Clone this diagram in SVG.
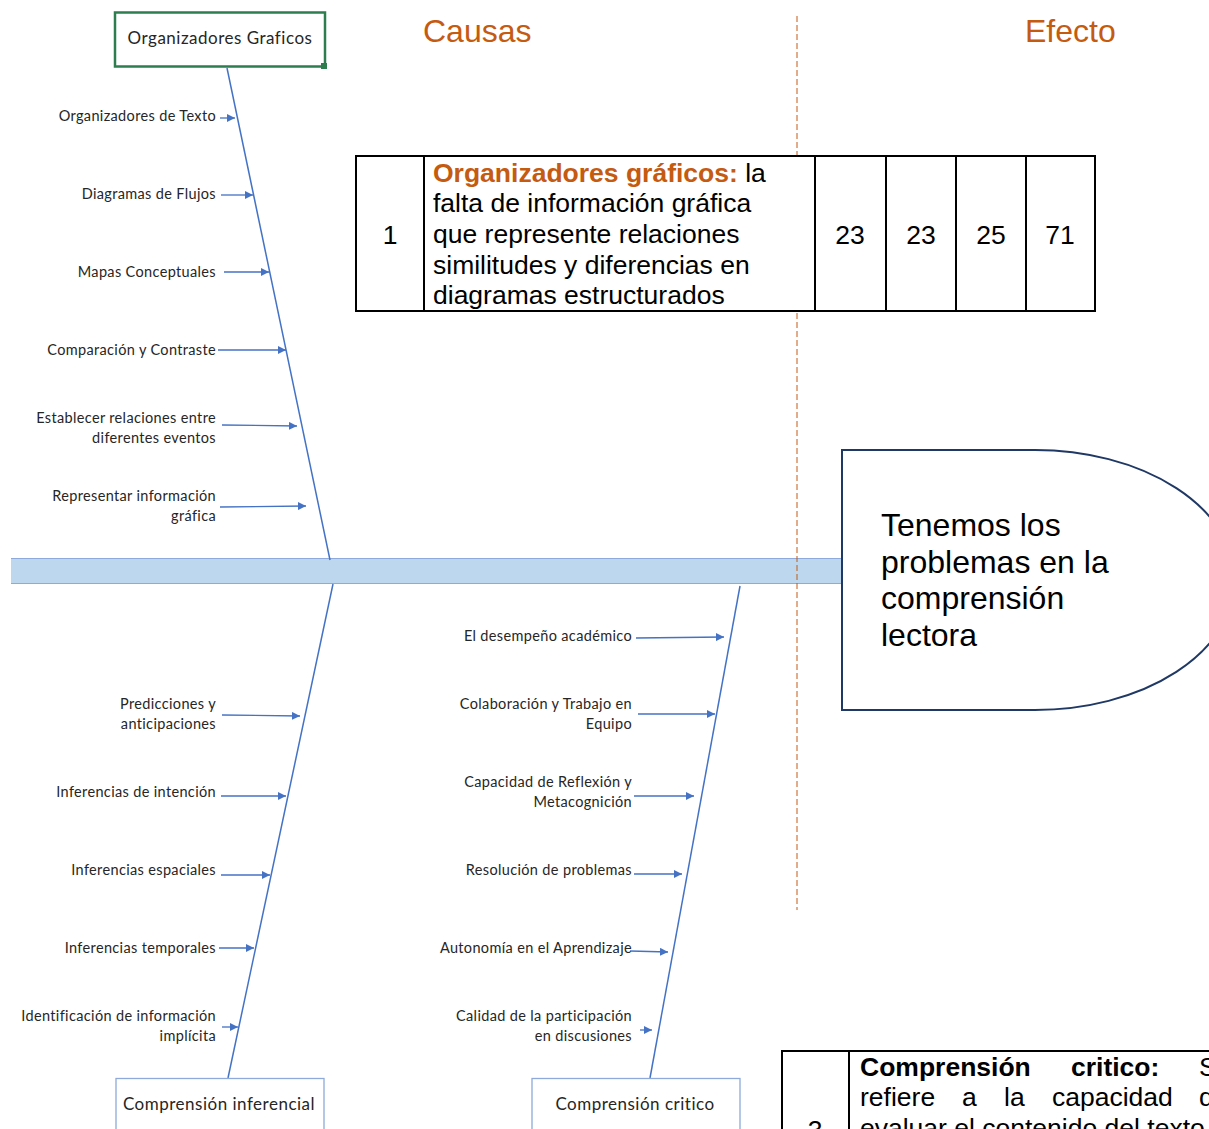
<svg xmlns="http://www.w3.org/2000/svg" width="1209" height="1129" viewBox="0 0 1209 1129">
<defs>
<marker id="ah" viewBox="0 0 10 10" refX="10" refY="5" markerWidth="8" markerHeight="8" markerUnits="userSpaceOnUse" orient="auto">
<path d="M0,0 L10,5 L0,10 Z" fill="#4472C4"/>
</marker>
<style>
.lbl{font-family:Lato,"Liberation Sans",sans-serif;font-size:14.5px;letter-spacing:0.35px;fill:#262626;text-anchor:end}
.box{font-family:Lato,"Liberation Sans",sans-serif;font-size:17px;letter-spacing:0.5px;fill:#262626;text-anchor:middle}
.bone{stroke:#4472C4;stroke-width:1.5;fill:none}
.br{stroke:#4472C4;stroke-width:1.3;fill:none;marker-end:url(#ah)}
.hdr{font-family:"Liberation Sans",Arial,sans-serif;font-size:32px;fill:#C55A11}
.tt{font-family:"Liberation Sans",Arial,sans-serif;font-size:26.5px;fill:#000}
.big{font-family:"Liberation Sans",Arial,sans-serif;font-size:32px;fill:#000}
.cell{fill:#fff;stroke:#000;stroke-width:2}
</style>
</defs>
<rect width="1209" height="1129" fill="#fff"/>

<g id="headers">
<text class="hdr" x="423" y="42">Causas</text>
<text class="hdr" x="1025" y="42">Efecto</text>
</g>

<g id="spine">
<rect x="11" y="558" width="840" height="26" fill="#BDD7EE"/>
<line x1="11" y1="558.5" x2="851" y2="558.5" stroke="#8EAADB" stroke-width="1.2"/>
<line x1="11" y1="583.5" x2="851" y2="583.5" stroke="#8EAADB" stroke-width="1.2"/>
</g>

<g id="connectors">
<line class="bone" x1="227" y1="68" x2="330" y2="560"/>
<line class="bone" x1="333" y1="584" x2="228" y2="1078"/>
<line class="bone" x1="740" y1="586" x2="650" y2="1078"/>
<line class="br" x1="220" y1="118" x2="235" y2="118"/>
<line class="br" x1="221" y1="195" x2="253" y2="195"/>
<line class="br" x1="224" y1="272" x2="269" y2="272"/>
<line class="br" x1="218" y1="350" x2="286" y2="350"/>
<line class="br" x1="222" y1="425" x2="297" y2="426"/>
<line class="br" x1="220" y1="507" x2="306" y2="506"/>
<line class="br" x1="222" y1="715" x2="300" y2="716"/>
<line class="br" x1="221" y1="796" x2="286" y2="796"/>
<line class="br" x1="221" y1="875" x2="270" y2="875"/>
<line class="br" x1="219" y1="948" x2="254" y2="948"/>
<line class="br" x1="222" y1="1027" x2="238" y2="1027"/>
<line class="br" x1="636" y1="638" x2="724" y2="637"/>
<line class="br" x1="638" y1="714" x2="715" y2="714"/>
<line class="br" x1="634" y1="796" x2="694" y2="796"/>
<line class="br" x1="634" y1="874" x2="682" y2="874"/>
<line class="br" x1="630" y1="951" x2="668" y2="952"/>
<line class="br" x1="640" y1="1030" x2="652" y2="1030"/>
</g>

<g id="divider">
<line x1="797" y1="16" x2="797" y2="910" stroke="#C55A11" stroke-width="1" stroke-dasharray="6,3"/>
</g>

<g id="node-organizadores">
<rect x="115" y="12.5" width="210" height="54" fill="#fff" stroke="#2E7D4F" stroke-width="2.5"/>
<rect x="321" y="63" width="6" height="6" fill="#2E7D4F"/>
<text class="box" x="220" y="44">Organizadores Graficos</text>
</g>

<g id="labels-upper">
<text class="lbl" x="216" y="121">Organizadores de Texto</text>
<text class="lbl" x="216" y="199">Diagramas de Flujos</text>
<text class="lbl" x="216" y="277">Mapas Conceptuales</text>
<text class="lbl" x="216" y="355">Comparación y Contraste</text>
<text class="lbl" x="216" y="423">Establecer relaciones entre</text>
<text class="lbl" x="216" y="443">diferentes  eventos</text>
<text class="lbl" x="216" y="501">Representar información</text>
<text class="lbl" x="216" y="521">gráfica</text>
</g>

<g id="labels-lower-left">
<text class="lbl" x="216" y="709">Predicciones y</text>
<text class="lbl" x="216" y="729">anticipaciones</text>
<text class="lbl" x="216" y="797">Inferencias de intención</text>
<text class="lbl" x="216" y="875">Inferencias espaciales</text>
<text class="lbl" x="216" y="953">Inferencias temporales</text>
<text class="lbl" x="216" y="1021">Identificación de información</text>
<text class="lbl" x="216" y="1041">implícita</text>
</g>

<g id="labels-lower-right">
<text class="lbl" x="632" y="641">El desempeño académico</text>
<text class="lbl" x="632" y="709">Colaboración y Trabajo en</text>
<text class="lbl" x="632" y="729">Equipo</text>
<text class="lbl" x="632" y="787">Capacidad de Reflexión y</text>
<text class="lbl" x="632" y="807">Metacognición</text>
<text class="lbl" x="632" y="875">Resolución de problemas</text>
<text class="lbl" x="632" y="953">Autonomía en el Aprendizaje</text>
<text class="lbl" x="632" y="1021">Calidad de la participación</text>
<text class="lbl" x="632" y="1041">en discusiones</text>
</g>

<g id="node-inferencial">
<rect x="116" y="1078.5" width="208" height="70" fill="#fff" stroke="#8EAADB" stroke-width="1.3"/>
<text class="box" x="219" y="1110">Comprensión inferencial</text>
</g>

<g id="node-critico">
<rect x="532" y="1078.5" width="208" height="70" fill="#fff" stroke="#8EAADB" stroke-width="1.3"/>
<text class="box" x="635" y="1110">Comprensión critico</text>
</g>

<g id="node-efecto">
<path d="M842,450 H1035 A200,130 0 0 1 1035,710 H842 Z" fill="#fff" stroke="#1F3864" stroke-width="2"/>
<text class="big" x="881" y="536">Tenemos los</text>
<text class="big" x="881" y="573">problemas en la</text>
<text class="big" x="881" y="609">comprensión</text>
<text class="big" x="881" y="646">lectora</text>
</g>

<g id="table-1">
<rect class="cell" x="356" y="156" width="739" height="155"/>
<line x1="424" y1="156" x2="424" y2="311" stroke="#000" stroke-width="2"/>
<line x1="815" y1="156" x2="815" y2="311" stroke="#000" stroke-width="2"/>
<line x1="886" y1="156" x2="886" y2="311" stroke="#000" stroke-width="2"/>
<line x1="956" y1="156" x2="956" y2="311" stroke="#000" stroke-width="2"/>
<line x1="1026" y1="156" x2="1026" y2="311" stroke="#000" stroke-width="2"/>
<text class="tt" x="390" y="244" text-anchor="middle">1</text>
<text class="tt" x="433" y="182"><tspan font-weight="bold" fill="#C55A11">Organizadores gráficos:</tspan> la</text>
<text class="tt" x="433" y="212">falta de información gráfica</text>
<text class="tt" x="433" y="243">que represente relaciones</text>
<text class="tt" x="433" y="274">similitudes y diferencias en</text>
<text class="tt" x="433" y="304">diagramas estructurados</text>
<text class="tt" x="850" y="244" text-anchor="middle">23</text>
<text class="tt" x="921" y="244" text-anchor="middle">23</text>
<text class="tt" x="991" y="244" text-anchor="middle">25</text>
<text class="tt" x="1060" y="244" text-anchor="middle">71</text>
</g>

<g id="table-3">
<rect class="cell" x="782" y="1051" width="460" height="120"/>
<line x1="849" y1="1051" x2="849" y2="1171" stroke="#000" stroke-width="2"/>
<text class="tt" x="815" y="1139" text-anchor="middle">3</text>
<text class="tt" x="860" y="1076" font-weight="bold">Comprensión</text>
<text class="tt" x="1071" y="1076" font-weight="bold">critico:</text>
<text class="tt" x="1199" y="1076">Se</text>
<text class="tt" x="860" y="1106">refiere</text>
<text class="tt" x="962" y="1106">a</text>
<text class="tt" x="1004" y="1106">la</text>
<text class="tt" x="1052" y="1106">capacidad</text>
<text class="tt" x="1199" y="1106">de</text>
<text class="tt" x="860" y="1137">evaluar el contenido del texto</text>
</g>
</svg>
